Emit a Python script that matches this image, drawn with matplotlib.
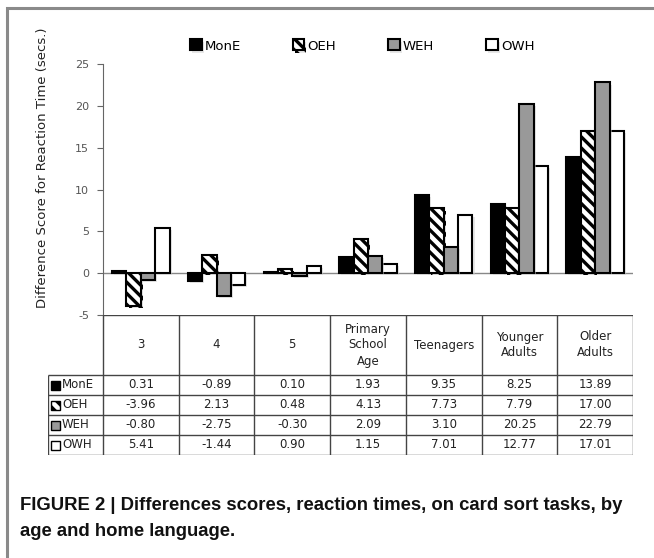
import matplotlib
matplotlib.use("Agg")
import matplotlib.pyplot as plt
from matplotlib.patches import Rectangle
import matplotlib.patheffects as pe

# data
categories = ["3", "4", "5", "Primary\nSchool\nAge", "Teenagers", "Younger\nAdults", "Older\nAdults"]
groups = ["MonE", "OEH", "WEH", "OWH"]
mone = [0.31, -0.89, 0.10, 1.93, 9.35, 8.25, 13.89]
oeh = [-3.96, 2.13, 0.48, 4.13, 7.73, 7.79, 17.00]
weh = [-0.80, -2.75, -0.30, 2.09, 3.10, 20.25, 22.79]
owh = [5.41, -1.44, 0.90, 1.15, 7.01, 12.77, 17.01]
yticks = [-5, 0, 5, 10, 15, 20, 25]

series = [mone, oeh, weh, owh]
faces = ["black", "white", "#999999", "white"]
hatches = [None, "\\\\\\", None, None]

plt.rcParams["hatch.linewidth"] = 2.4
plt.rcParams["font.family"] = ["DejaVu Sans"]

W, H = 654, 558
fig = plt.figure(figsize=(W / 100, H / 100), dpi=100)

# grey frame around the figure (open to the right and bottom like the crop)
fig.patches.append(Rectangle((7 / W, -0.1), 1.2, 1 - 8 / H + 0.1, transform=fig.transFigure,
                             fill=False, edgecolor="#8a8a8a", lw=2.2))

ax = fig.add_axes([103 / W, 1 - 315 / H, 530 / W, 251 / H])
n = len(categories)
xs = list(range(n))
bw = 0.19
shadow = [pe.SimplePatchShadow(offset=(1.5, -1.5), shadow_rgbFace="#d0d0d0", alpha=0.5), pe.Normal()]
handles = []
for i, vals in enumerate(series):
    pos = [x + (i - 1.5) * bw for x in xs]
    b = ax.bar(pos, vals, width=bw, color=faces[i], edgecolor="black", lw=1.5,
               hatch=hatches[i], label=groups[i], zorder=3 + (i == 2))
    for p in b:
        p.set_path_effects(shadow)
    handles.append(b)

ax.axhline(0, color="#888888", lw=1, zorder=2)
ax.set_xlim(-0.5, n - 0.5)
ax.set_ylim(yticks[0], yticks[-1])
ax.set_yticks(yticks)
ax.set_yticklabels([str(t) for t in yticks], color="#555555", fontsize=8)
ax.tick_params(axis="y", length=4, color="#666666", pad=6)
ax.set_xticks([])
for s in ["top", "right", "bottom"]:
    ax.spines[s].set_visible(False)
ax.spines["left"].set_color("#666666")
ax.patch.set_alpha(0)

fig.text(43 / W, 1 - 168 / H, "Difference Score for Reaction Time (secs.)", rotation=90,
         ha="center", va="center", fontsize=9.5, color="#222222")

fig.legend([h[0] for h in handles], groups, loc="center", bbox_to_anchor=(362 / W, 1 - 46 / H),
           ncol=4, frameon=False, handlelength=0.9, handleheight=0.9, handletextpad=0.25,
           columnspacing=3.9, fontsize=9.5)

# table under the chart, in pixel-like units
px = 530 / n
lab_w = 55 / px
tax = fig.add_axes([48 / W, 1 - 455 / H, 585 / W, 140 / H])
tax.set_xlim(-0.5 - lab_w, n - 0.5)
tax.set_ylim(140, 0)
tax.axis("off")
head_h = 60
row_h = 20
lc = "#444444"
tax.hlines(0, -0.5, n - 0.5, color=lc, lw=1)
tax.hlines([head_h + k * row_h for k in range(len(groups) + 1)], -0.5 - lab_w, n - 0.5, color=lc, lw=1)
tax.vlines([k - 0.5 for k in range(n + 1)], 0, head_h + len(groups) * row_h, color=lc, lw=1)
tax.vlines(-0.5 - lab_w, head_h, head_h + len(groups) * row_h, color=lc, lw=1)

for j, c in enumerate(categories):
    tax.text(j, head_h / 2, c, ha="center", va="center", fontsize=8.5, color="#222222",
             linespacing=1.3)
for i, vals in enumerate(series):
    yc = head_h + row_h * (i + 0.5)
    tax.add_patch(Rectangle((-0.5 - lab_w + 3 / px, yc - 4.5), 9 / px, 9, facecolor=faces[i],
                            edgecolor="black", lw=1, hatch=hatches[i]))
    tax.text(-0.5 - lab_w + 14 / px, yc, groups[i], ha="left", va="center", fontsize=8.5,
             color="#222222")
    for j, v in enumerate(vals):
        tax.text(j, yc, f"{v:.2f}", ha="center", va="center", fontsize=8.5, color="#222222")

cap_font = ["Liberation Sans"]
fig.text(20 / W, 1 - 505 / H, "FIGURE 2 | Differences scores, reaction times, on card sort tasks, by",
         ha="left", va="center", fontsize=13.3, fontweight="bold", family=cap_font, color="#111111")
fig.text(20 / W, 1 - 532 / H, "age and home language.",
         ha="left", va="center", fontsize=13.3, fontweight="bold", family=cap_font, color="#111111")

fig.savefig("out.png", dpi=100)
